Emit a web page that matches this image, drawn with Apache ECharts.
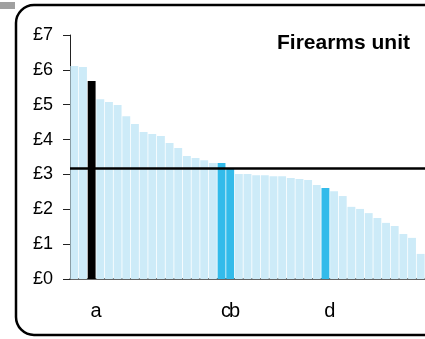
<!DOCTYPE html>
<html>
<head>
<meta charset="utf-8">
<script src="https://cdn.jsdelivr.net/npm/echarts@6/dist/echarts.min.js"></script>
<style>html,body{margin:0;padding:0;background:#fff;}#c{width:425px;height:339px;}</style>
</head>
<body>
<div id="c"></div>
<script>
const categoryLabels = ['', '', 'a', '', '', '', '', '', '', '', '', '', '', '', '', '', '', 'c', 'b', '', '', '', '', '', '', '', '', '', '', 'd', '', '', '', '', '', '', '', '', '', '', ''];
const costValues = [6.11, 6.08, 5.68, 5.16, 5.08, 4.99, 4.67, 4.45, 4.22, 4.16, 4.10, 3.90, 3.76, 3.53, 3.47, 3.41, 3.33, 3.33, 3.18, 3.01, 3.01, 2.98, 2.98, 2.95, 2.95, 2.90, 2.87, 2.84, 2.70, 2.61, 2.52, 2.38, 2.07, 2.01, 1.89, 1.75, 1.61, 1.52, 1.29, 1.18, 0.72];
const averageValue = 3.17;
const yTicks = [0, 1, 2, 3, 4, 5, 6, 7];
const titleText = 'Firearms unit';

const colorFor = { a: '#000000', b: '#33bbea', c: '#33bbea', d: '#33bbea' };
const base = '#cdebf8';
const font = 'Liberation Sans, Arial, sans-serif';

const chart = echarts.init(document.getElementById('c'), null, { renderer: 'canvas' });
const n = costValues.length;
const pitch = 8.66;
chart.setOption({
  animation: false,
  backgroundColor: '#fff',
  title: {
    text: titleText, right: 10, top: 28,
    textStyle: { fontFamily: font, fontSize: 21, fontWeight: 'bold', color: '#000' }
  },
  graphic: [
    { type: 'rect', shape: { x: 0, y: 2, width: 15, height: 7 }, style: { fill: '#a0a0a0' } },
    { type: 'rect', shape: { x: 16, y: 5, width: 430, height: 330, r: 18 }, style: { fill: 'none', stroke: '#000', lineWidth: 2.5 }, z: 100 }
  ],
  grid: { left: 70, top: 35, width: n * pitch, height: 244 },
  xAxis: {
    type: 'category', data: categoryLabels,
    axisLine: { lineStyle: { color: '#333', width: 1.5 } },
    axisTick: { show: false },
    axisLabel: { interval: 0, fontFamily: font, fontSize: 20, color: '#000', margin: 22, padding: [0, 0, 0, 9] }
  },
  yAxis: {
    type: 'value', min: 0, max: 7, interval: 1,
    axisLine: { show: true, lineStyle: { color: '#222', width: 1 } },
    axisTick: { show: true, length: 7, lineStyle: { color: '#222' } },
    splitLine: { show: false },
    axisLabel: { fontFamily: font, fontSize: 18, color: '#000', margin: 17, formatter: v => yTicks.includes(v) ? '£' + v : '' }
  },
  series: [{
    type: 'bar',
    barCategoryGap: '9%',
    data: costValues.map((v, i) => ({ value: v, itemStyle: { color: colorFor[categoryLabels[i]] || base } })),
    markLine: {
      silent: true, symbol: 'none', label: { show: false },
      lineStyle: { color: '#000', width: 2.5, type: 'solid' },
      data: [{ yAxis: averageValue }]
    }
  }]
});
</script>
</body>
</html>
